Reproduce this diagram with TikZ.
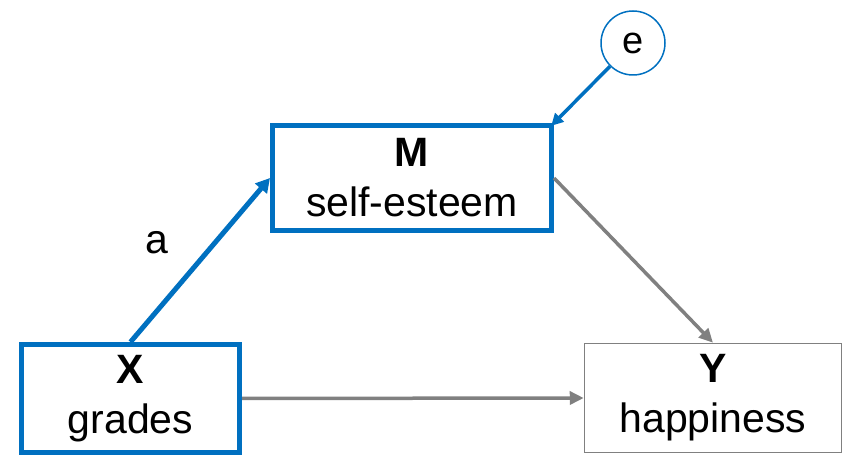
\documentclass[tikz,border=0pt]{standalone}
\usepackage{fontspec}
\setmainfont{Liberation Sans}
\usetikzlibrary{arrows.meta}
\definecolor{myblue}{HTML}{0070C0}
\definecolor{mygray}{HTML}{808080}
\begin{document}
\begin{tikzpicture}[x=1pt,y=-1pt,
  txt/.style={font=\fontsize{41}{50}\selectfont, align=center, inner sep=0pt},
  bluebox/.style={txt, draw=myblue, line width=5pt, rectangle},
  graybox/.style={txt, draw=mygray, line width=1.5pt, rectangle},
  bluearrow/.style={draw=myblue, line width=5pt, -{Triangle[length=14pt,width=15pt]}},
  grayarrow/.style={draw=mygray, line width=3.5pt, -{Triangle[length=14pt,width=13pt]}},
  errarrow/.style={draw=myblue, line width=3.5pt, -{Triangle[length=12pt,width=12pt]}}
]
\useasboundingbox (0,0) rectangle (852,462);
\node[bluebox, minimum width=279pt, minimum height=105pt] (M) at (412,178) {\textbf{M}\\self-esteem};
\node[bluebox, minimum width=218pt, minimum height=108pt] (X) at (130.5,398.5) {\textbf{X}\\grades};
\node[graybox, minimum width=257pt, minimum height=109pt] (Y) at (713,398) {\textbf{Y}\\happiness};
\node[circle, draw=myblue, line width=1.5pt, minimum size=64pt, inner sep=0pt, font=\fontsize{38}{40}\selectfont] (e) at (633,43) {e};
\node[txt] (a) at (157,243) {a};
\draw[bluearrow] (X.north) -- (M.west);
\draw[grayarrow] (M.east) -- (Y.north);
\draw[grayarrow] (X.east) -- (Y.west);
\draw[errarrow, shorten >=-4pt] (e) -- (M.north east);
\end{tikzpicture}
\end{document}
